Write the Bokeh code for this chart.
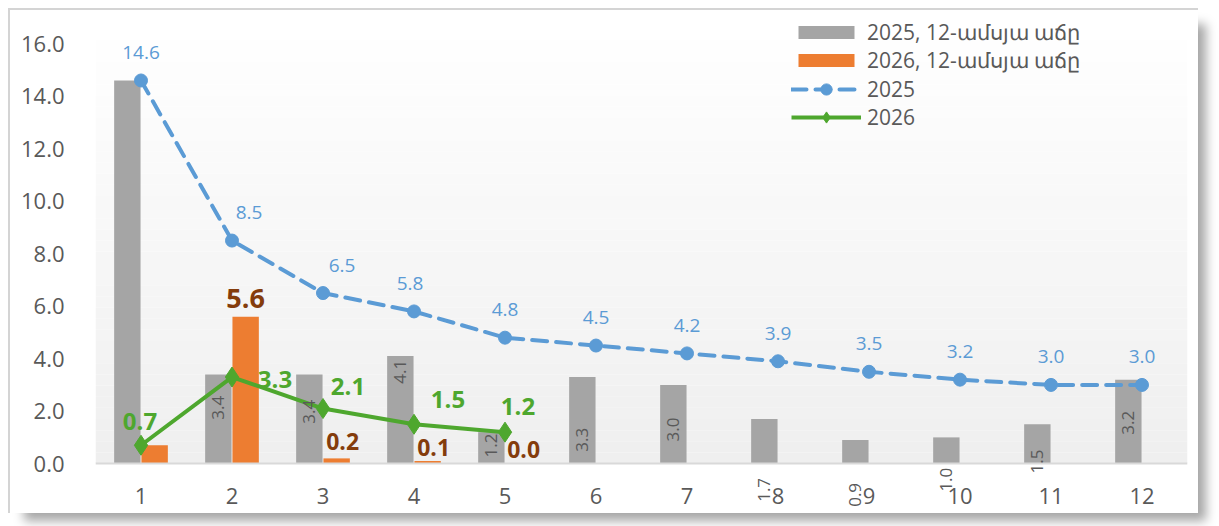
import numpy as np
from bokeh.plotting import figure
from bokeh.models import (ColumnDataSource, LabelSet, FixedTicker, Legend, LegendItem,
                          BoxAnnotation, Range1d, PrintfTickFormatter)
from bokeh.transform import dodge
from bokeh.core.properties import value
from bokeh.embed import file_html
from bokeh.resources import INLINE

# ---------------- data ----------------
months = [1, 2, 3, 4, 5, 6, 7, 8, 9, 10, 11, 12]
months_2026 = [1, 2, 3, 4, 5]
growth_2025 = [14.6, 3.4, 3.4, 4.1, 1.2, 3.3, 3.0, 1.7, 0.9, 1.0, 1.5, 3.2]
growth_2026 = [0.7, 5.6, 0.2, 0.1, 0.0]
line_2025 = [14.6, 8.5, 6.5, 5.8, 4.8, 4.5, 4.2, 3.9, 3.5, 3.2, 3.0, 3.0]
line_2026 = [0.7, 3.3, 2.1, 1.5, 1.2]
series_names = ["2025, 12-ամսյա աճը", "2026, 12-ամսյա աճը", "2025", "2026"]
y_ticks = [0, 2, 4, 6, 8, 10, 12, 14, 16]

# ---------------- label layout (as placed in the original) ----------------
gray_label_at = [None, 2.13, 1.98, 3.50, 0.69, 0.91, 1.30, -1.0, -1.19, -0.61, 0.08, 1.56]
blue_dx = [0, 17, 19, -4, 0, 0, 0, 0, 0, 0, 0, 0]
green_dx = [-1, 43, 25, 34, 13]
green_dy = [24, -2, 22, 25, 26]
orange_show = [False, True, True, True, True]
orange_dx = [0, 0, 6, 6, 5]
orange_dy = [0, 18, 17, 14, 14]
orange_size = ["22px", "27px", "23px", "23px", "23px"]

GRAY = "#A5A5A5"
ORANGE = "#ED7D31"
BLUE = "#5B9BD5"
GREEN = "#4EA72E"
BROWN = "#843C0C"
TXT = "#595959"
FONT = "Open Sans"
Y_TOP = 17
Y_BOTTOM = -1.9

p = figure(frame_width=1092, frame_height=496, output_backend="svg", toolbar_location=None,
           x_range=Range1d(0.5, 12.5), y_range=Range1d(Y_BOTTOM, Y_TOP),
           min_border_left=85, min_border_right=11, min_border_top=7, min_border_bottom=0)
p.styles = {"margin": "8px 0 0 8px",
            "border-top": "2px solid #d4d4d4", "border-left": "2px solid #d4d4d4",
            "box-shadow": "12px 12px 10px -4px rgba(0,0,0,0.35)"}
p.outline_line_color = None
p.background_fill_color = "white"
p.xgrid.visible = False
p.ygrid.visible = False

# plot-area gradient (white at top -> light grey at the axis)
nb = 40
for i in range(nb):
    t = i / (nb - 1)
    c = int(round(0xEF + (0xFF - 0xEF) * t))
    p.add_layout(BoxAnnotation(bottom=Y_TOP * i / nb, top=Y_TOP * (i + 1) / nb,
                               fill_color="#%02x%02x%02x" % (c, c, c), fill_alpha=1,
                               line_alpha=0, level="underlay"))

src25 = ColumnDataSource(dict(x=months, g=growth_2025, l=line_2025, dx=blue_dx,
                              lt=["%.1f" % v for v in line_2025]))
src26 = ColumnDataSource(dict(x=months_2026, g=growth_2026, l=line_2026,
                              gdx=green_dx, gdy=green_dy,
                              lt=["%.1f" % v for v in line_2026]))

bar25 = p.vbar(x=dodge("x", -0.15, range=p.x_range), top="g", width=0.29, source=src25,
               fill_color=GRAY, line_color=None)
bar26 = p.vbar(x=dodge("x", 0.15, range=p.x_range), top="g", width=0.29, source=src26,
               fill_color=ORANGE, line_color=None)

bl = p.line("x", "l", source=src25, line_color=BLUE, line_width=4, line_dash="15 9",
            line_cap="round")
bm = p.scatter("x", "l", source=src25, marker="circle", size=13, fill_color=BLUE,
               line_color=BLUE)
gl = p.line("x", "l", source=src26, line_color=GREEN, line_width=4)
gm = p.scatter("x", "l", source=src26, marker="diamond", size=20, fill_color=GREEN,
               line_color=GREEN)

# gray bar labels (rotated)
gx, gy, gt = [], [], []
for m, v, pos in zip(months, growth_2025, gray_label_at):
    if pos is not None:
        gx.append(m); gy.append(pos); gt.append("%.1f" % v)
p.add_layout(LabelSet(x=dodge("x", -0.15, range=p.x_range), y="y", text="t",
                      source=ColumnDataSource(dict(x=gx, y=gy, t=gt)),
                      angle=np.pi / 2, text_align="center", text_baseline="middle",
                      text_font=value(FONT), text_font_size="17px", text_color=TXT))

# blue line labels
p.add_layout(LabelSet(x="x", y="l", text="lt", source=src25, x_offset="dx", y_offset=28,
                      text_align="center", text_baseline="middle",
                      text_font=value(FONT), text_font_size="19px", text_color=BLUE))

# green line labels
p.add_layout(LabelSet(x="x", y="l", text="lt", source=src26, x_offset="gdx", y_offset="gdy",
                      text_align="center", text_baseline="middle", text_font_style="bold",
                      text_font=value(FONT), text_font_size="24px", text_color=GREEN))

# orange bar labels
ox, oy, ot, odx, ody, osz = [], [], [], [], [], []
for m, v, s, dx, dy, sz in zip(months_2026, growth_2026, orange_show, orange_dx, orange_dy,
                               orange_size):
    if s:
        ox.append(m); oy.append(v); ot.append("%.1f" % v)
        odx.append(dx); ody.append(dy); osz.append(sz)
p.add_layout(LabelSet(x=dodge("x", 0.15, range=p.x_range), y="y", text="t",
                      source=ColumnDataSource(dict(x=ox, y=oy, t=ot, dx=odx, dy=ody, sz=osz)),
                      x_offset="dx", y_offset="dy", text_font_size="sz",
                      text_align="center", text_baseline="middle", text_font_style="bold",
                      text_font=value(FONT), text_color=BROWN))

# axes
p.xaxis.fixed_location = 0
p.xaxis.ticker = FixedTicker(ticks=months)
p.xaxis.major_label_overrides = {m: str(m) for m in months}
p.xaxis.axis_line_color = "#d9d9d9"
p.xaxis.axis_line_width = 2
p.xaxis.major_tick_line_color = None
p.xaxis.minor_tick_line_color = None
p.xaxis.major_label_text_font = FONT
p.xaxis.major_label_text_font_size = "22px"
p.xaxis.major_label_text_color = TXT
p.xaxis.major_label_standoff = 18

p.yaxis.ticker = FixedTicker(ticks=y_ticks)
p.yaxis.formatter = PrintfTickFormatter(format="%.1f")
p.yaxis.axis_line_color = None
p.yaxis.major_tick_line_color = None
p.yaxis.minor_tick_line_color = None
p.yaxis.major_label_text_font = FONT
p.yaxis.major_label_text_font_size = "22px"
p.yaxis.major_label_text_color = TXT
p.yaxis.major_label_standoff = 25


def style_legend(lg, glyph_h):
    lg.background_fill_alpha = 0
    lg.border_line_color = None
    lg.padding = 0
    lg.margin = 0
    lg.spacing = 0
    lg.glyph_width = 70
    lg.glyph_height = glyph_h
    lg.label_height = 28
    lg.label_standoff = 6
    lg.label_text_font = FONT
    lg.label_text_font_size = "21px"
    lg.label_text_color = TXT


legend_bars = Legend(items=[
    LegendItem(label=series_names[0], renderers=[bar25]),
    LegendItem(label=series_names[1], renderers=[bar26]),
], location=(696, 439), orientation="vertical")
style_legend(legend_bars, 16)
p.add_layout(legend_bars, "center")

legend_lines = Legend(items=[
    LegendItem(label=series_names[2], renderers=[bl, bm]),
    LegendItem(label=series_names[3], renderers=[gl, gm]),
], location=(696, 382), orientation="vertical")
style_legend(legend_lines, 28)
p.add_layout(legend_lines, "center")

open("out.html", "w").write(file_html(p, INLINE))
